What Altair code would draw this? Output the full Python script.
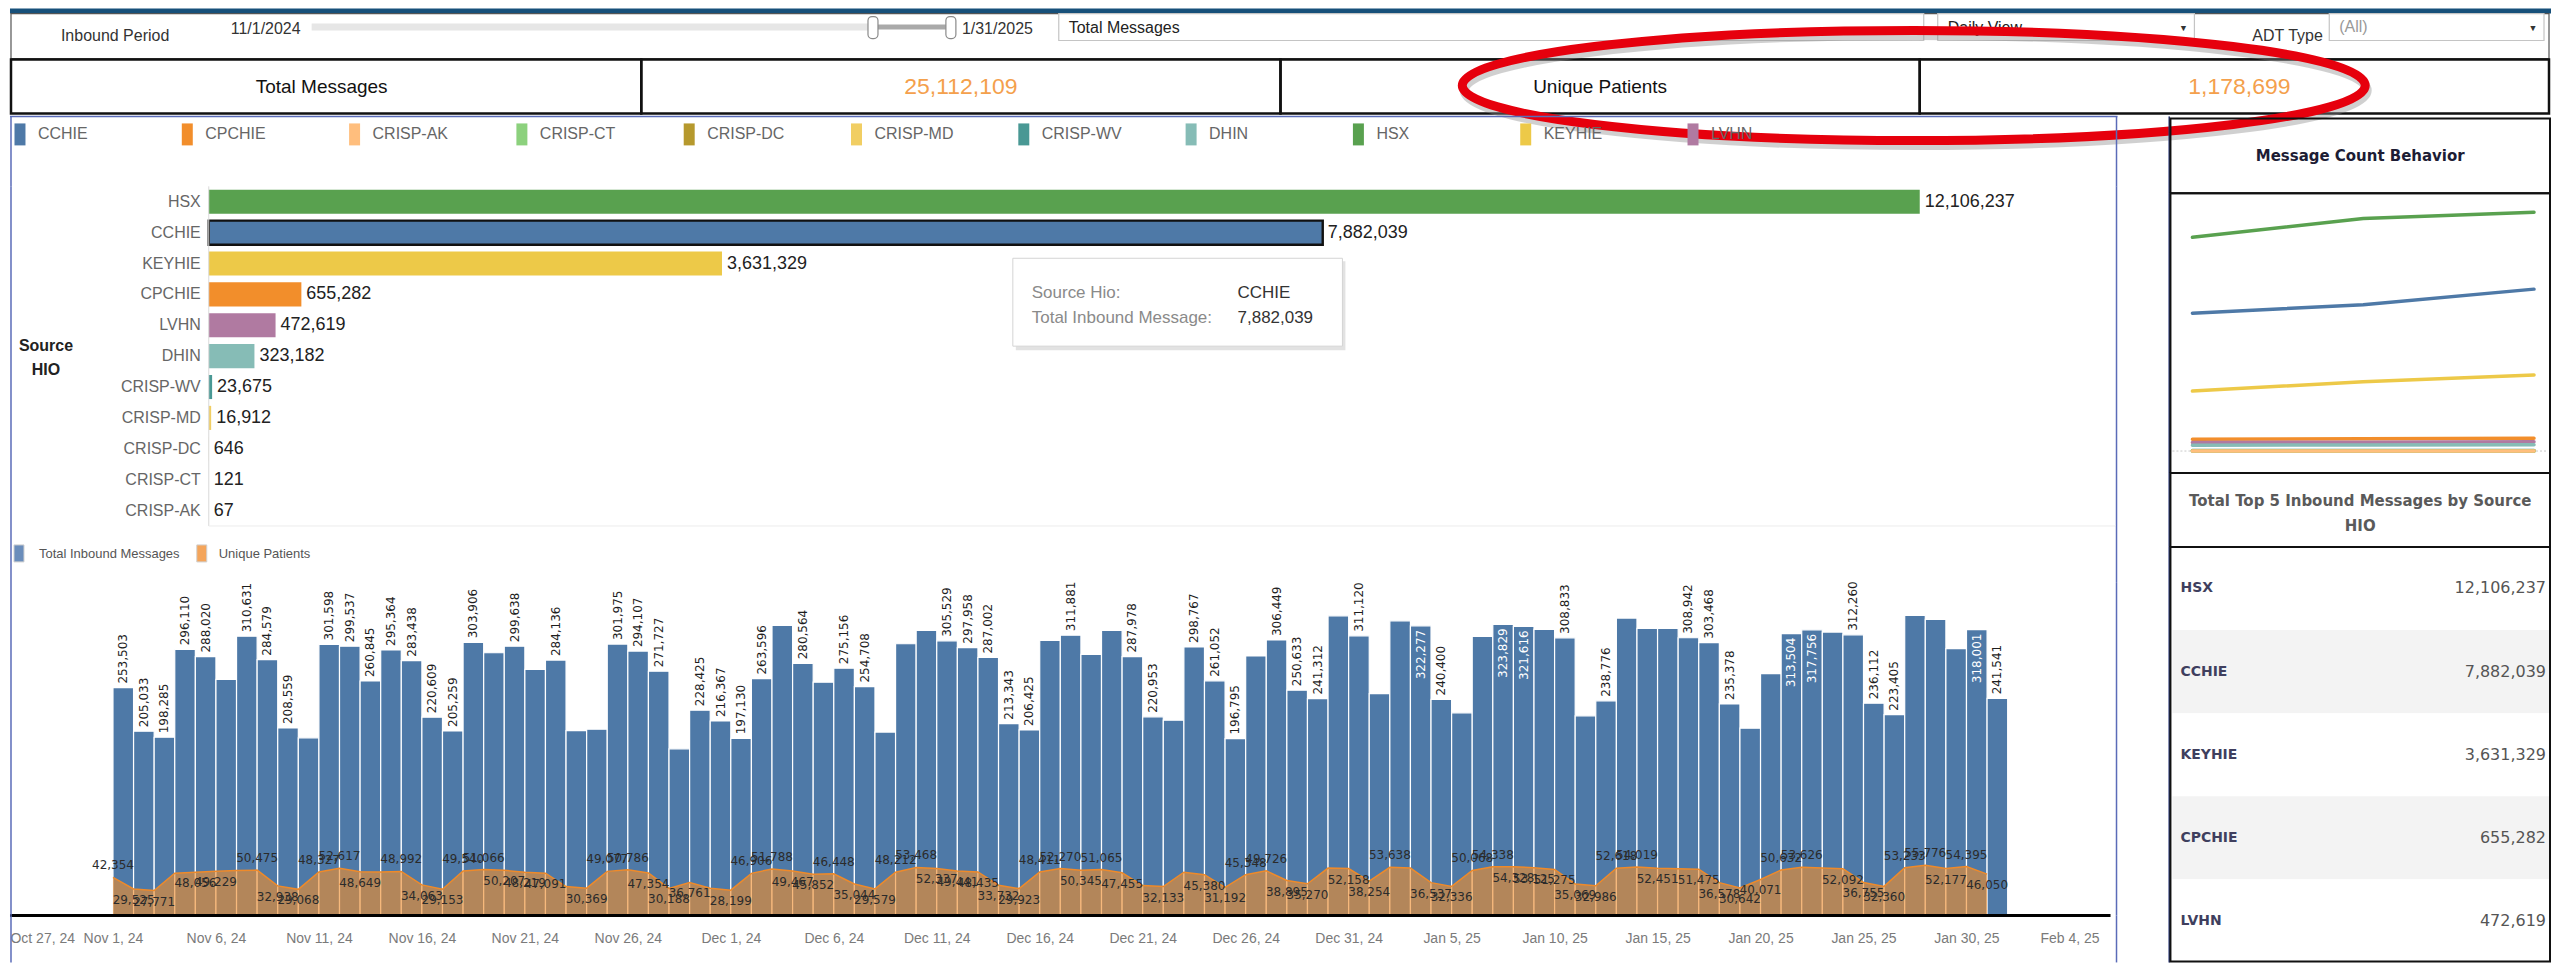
import altair as alt
import pandas as pd
import numpy as np

SANS = "'Liberation Sans', Arial, sans-serif"
WIDE = "'DejaVu Sans', Verdana, sans-serif"
PANEL = "#5a6bb8"
NAVY = "#2c3a78"
BLUE = "#4e79a7"
ORANGE = "#f28e2b"

# ---------------- data ----------------
hio_names = ["CCHIE", "CPCHIE", "CRISP-AK", "CRISP-CT", "CRISP-DC", "CRISP-MD",
             "CRISP-WV", "DHIN", "HSX", "KEYHIE", "LVHN"]
hio_colors = ["#4e79a7", "#f28e2b", "#ffbe7d", "#8cd17d", "#b6992d", "#f1ce63",
              "#499894", "#86bcb6", "#59a14f", "#edc948", "#b07aa1"]
hio_totals = [7882039, 655282, 67, 121, 646, 16912, 23675, 323182, 12106237, 3631329, 472619]
selected_hio = "CCHIE"

total_messages = 25112109
unique_patients = 1178699

month_index = [0, 1, 2]
monthly_hsx = [3777000, 4109000, 4220237]
monthly_cchie = [2437000, 2584000, 2861039]
monthly_keyhie = [1060000, 1226000, 1345329]
monthly_cpchie = [210000, 218000, 227282]
monthly_lvhn = [150000, 157000, 165619]
monthly_dhin = [104000, 108000, 111182]
monthly_crisp_wv = [7600, 7900, 8175]
monthly_crisp_md = [5400, 5600, 5912]
monthly_crisp_dc = [200, 215, 231]
monthly_crisp_ct = [40, 40, 41]
monthly_crisp_ak = [22, 22, 23]

nov_messages = [253503, 205033, 198285, 296110, 288020, 262700, 310631, 284579, 208559, 197600,
                301598, 299537, 260845, 295364, 283438, 220609, 205259, 303906, 292300, 299638,
                273800, 284136, 205700, 207200, 301975, 294107, 271727, 185400, 228425, 216367]
dec_messages = [197130, 263596, 322700, 280564, 259500, 275156, 254708, 204000, 302300, 317100,
                305529, 297958, 287002, 213343, 206425, 306000, 311881, 290500, 317100, 287978,
                220953, 217300, 298767, 261052, 196795, 288700, 306449, 250633, 241312, 333400, 311120]
jan_messages = [246900, 327800, 322277, 240400, 225500, 310500, 323829, 321616, 318200, 308833,
                222100, 238776, 330800, 319300, 319300, 308942, 303468, 235378, 208400, 269100,
                313504, 317756, 315300, 312260, 236112, 223405, 333700, 329300, 296800, 318001, 241541]

nov_patients = [42354, 29525, 27771, 47100, 48056, 49229, 50100, 50475, 32938, 29068,
                48327, 52617, 48649, 48300, 48992, 34063, 29153, 49540, 51066, 50207,
                48219, 47091, 32200, 30369, 49077, 50786, 47354, 30188, 36761, 30300]
dec_patients = [28199, 46906, 51788, 49467, 45852, 46448, 35044, 29579, 48212, 53468,
                52337, 49441, 48435, 33732, 29923, 48411, 52270, 50345, 51065, 47455,
                33300, 32133, 48100, 45380, 31192, 45348, 49726, 38895, 35270, 52700, 52158]
jan_patients = [38254, 53638, 52800, 36537, 32336, 50068, 54338, 54328, 53125, 51275,
                35069, 32986, 52618, 54019, 52451, 51900, 51475, 36578, 30642, 40071,
                50632, 53626, 52800, 52092, 36755, 32360, 53233, 55776, 52177, 54395, 46050]

# days whose labels Tableau dropped
msg_unlabeled = ["2024-11-06", "2024-11-10", "2024-11-19", "2024-11-21", "2024-11-23", "2024-11-24",
                 "2024-11-28", "2024-12-03", "2024-12-05", "2024-12-08", "2024-12-09", "2024-12-10",
                 "2024-12-16", "2024-12-18", "2024-12-19", "2024-12-22", "2024-12-26", "2024-12-30",
                 "2025-01-01", "2025-01-02", "2025-01-05", "2025-01-06", "2025-01-09", "2025-01-11",
                 "2025-01-13", "2025-01-14", "2025-01-15", "2025-01-19", "2025-01-20", "2025-01-23",
                 "2025-01-27", "2025-01-28", "2025-01-29"]
pat_unlabeled = ["2024-11-04", "2024-11-07", "2024-11-14", "2024-11-23", "2024-11-30", "2024-12-21",
                 "2024-12-23", "2024-12-30", "2025-01-03", "2025-01-16", "2025-01-23"]

# ---------------- derived tables ----------------
def to_ms(ts):
    return int(ts.value // 1_000_000)

days = pd.date_range("2024-11-01", "2025-01-31", freq="D", tz="UTC")
daily = pd.DataFrame({
    "date": [to_ms(d) for d in days],
    "next": [to_ms(d + pd.Timedelta(days=1)) for d in days],
    "mid": [to_ms(d + pd.Timedelta(hours=12)) for d in days],
    "day": days.strftime("%Y-%m-%d"),
    "msgs": nov_messages + dec_messages + jan_messages,
    "pat": nov_patients + dec_patients + jan_patients,
})
daily["zero"] = 0
daily["msg_lab"] = ~daily["day"].isin(msg_unlabeled)
daily["pat_lab"] = ~daily["day"].isin(pat_unlabeled)
p = daily["pat"].to_numpy()
prev = np.r_[-1, p[:-1]]
nxt = np.r_[p[1:], -1]
daily["above"] = (p >= 41000) & (((p >= prev) & (p >= nxt)) | (prev < 41000))

hio_df = pd.DataFrame({"hio": hio_names, "total": hio_totals})
hio_df["zero"] = 0
order = hio_df.sort_values("total", ascending=False)["hio"].tolist()
leg_df = pd.DataFrame({"hio": hio_names, "idx": np.arange(len(hio_names))})
sel_total = int(hio_df.set_index("hio").loc[selected_hio, "total"])

monthly = {"HSX": monthly_hsx, "CCHIE": monthly_cchie, "KEYHIE": monthly_keyhie,
           "CPCHIE": monthly_cpchie, "LVHN": monthly_lvhn, "DHIN": monthly_dhin,
           "CRISP-WV": monthly_crisp_wv, "CRISP-MD": monthly_crisp_md, "CRISP-DC": monthly_crisp_dc,
           "CRISP-CT": monthly_crisp_ct, "CRISP-AK": monthly_crisp_ak}
lines_df = pd.DataFrame([{"hio": h, "m": m, "value": v}
                         for h, vals in monthly.items() for m, v in zip(month_index, vals)])

top5 = hio_df.sort_values("total", ascending=False).head(5).reset_index(drop=True)
top5["rank"] = np.arange(len(top5))

period_start = f"{days[0].month}/{days[0].day}/{days[0].year}"
period_end = f"{days[-1].month}/{days[-1].day}/{days[-1].year}"

color_scale = alt.Scale(domain=hio_names, range=hio_colors)

# ---------------- helpers ----------------
ONE = pd.DataFrame({"k": [0]})


def txt(x, y, s, size=16, color="#333", align="left", baseline="middle", font=SANS, weight="normal"):
    return alt.Chart(ONE).mark_text(text=s, fontSize=size, color=color, align=align,
                                    baseline=baseline, font=font, fontWeight=weight).encode(
        x=alt.value(x), y=alt.value(y))


def rect(x, x2, y, y2, fill=None, stroke=None, sw=1.0, radius=0, opacity=1.0):
    kw = {}
    if fill is not None:
        kw["fill"] = fill
        kw["fillOpacity"] = opacity
    else:
        kw["fill"] = "white"
        kw["fillOpacity"] = 0
    if stroke is not None:
        kw["stroke"] = stroke
        kw["strokeWidth"] = sw
    if radius:
        kw["cornerRadius"] = radius
    return alt.Chart(ONE).mark_rect(**kw).encode(
        x=alt.value(x), x2=alt.value(x2), y=alt.value(y), y2=alt.value(y2))


def vrule(x, y, y2, color, sw=1.0):
    return alt.Chart(ONE).mark_rule(color=color, strokeWidth=sw).encode(
        x=alt.value(x), y=alt.value(y), y2=alt.value(y2))


def hrule(x, x2, y, color, sw=1.0):
    return alt.Chart(ONE).mark_rule(color=color, strokeWidth=sw).encode(
        x=alt.value(x), x2=alt.value(x2), y=alt.value(y))


W_ALL = 2544
W_L = 2110
W_R = 384

# ---------------- A: filter bar ----------------
A = alt.layer(
    rect(0, W_ALL, 0, 5, fill="#17507a"),
    rect(1, 2542, 5, 50, stroke="#555", sw=1.2),
    txt(51, 27, "Inbound Period", 16, "#333"),
    txt(221, 20, period_start, 16, "#333"),
    rect(302, 864, 15, 22, fill="#e6e6e6"),
    rect(864, 942, 16, 21, fill="#a9a9a9"),
    rect(859, 869, 8, 30, fill="white", stroke="#8a8a8a", sw=1.2, radius=4),
    rect(937, 947, 8, 30, fill="white", stroke="#8a8a8a", sw=1.2, radius=4),
    txt(953, 20, period_end, 16, "#333"),
    rect(1050, 1916, 5, 32, fill="white", stroke="#c4c4c4", sw=1.2),
    txt(1060, 19, "Total Messages", 16, "#222"),
    txt(1905, 19, "▼", 9, "#333", align="center"),
    rect(1930, 2187, 5, 32, fill="white", stroke="#c4c4c4", sw=1.2),
    txt(1940, 19, "Daily View", 16, "#222"),
    txt(2176, 19, "▼", 9, "#333", align="center"),
    txt(2245, 27, "ADT Type", 16, "#333"),
    rect(2322, 2537, 5, 32, fill="white", stroke="#c4c4c4", sw=1.2),
    txt(2332, 18, "(All)", 16, "#999"),
    txt(2526, 19, "▼", 9, "#333", align="center"),
).properties(width=W_ALL, height=50)

# ---------------- B: KPI row (+ annotation ellipse) ----------------
kpi_orange = "#f4a04c"
ELLIPSE = "M-1,0A1,0.122,0,1,1,1,0A1,0.122,0,1,1,-1,0Z"
B = alt.layer(
    rect(1, 632, 1, 55, stroke="#111", sw=2.5),
    rect(632, 1272, 1, 55, stroke="#111", sw=2.5),
    rect(1272, 1912, 1, 55, stroke="#111", sw=2.5),
    rect(1912, 2542, 1, 55, stroke="#111", sw=2.5),
    txt(312, 29, "Total Messages", 19, "#111", align="center"),
    txt(952, 29, f"{total_messages:,}", 23, kpi_orange, align="center"),
    txt(1592, 29, "Unique Patients", 19, "#111", align="center"),
    txt(2232, 29, f"{unique_patients:,}", 23, kpi_orange, align="center"),
    alt.Chart(ONE).mark_point(shape=ELLIPSE, size=817216, filled=False, stroke="#8c8c8c",
                              strokeWidth=9, opacity=0.4).encode(x=alt.value(1908), y=alt.value(32)),
    alt.Chart(ONE).mark_point(shape=ELLIPSE, size=817216, filled=False, stroke="#e6000d",
                              strokeWidth=9, opacity=1).encode(x=alt.value(1906), y=alt.value(27)),
).properties(width=W_ALL, height=56)

# ---------------- C1: HIO legend ----------------
H1 = 72
RECT_PATH = "M-0.5,-1L0.5,-1L0.5,1L-0.5,1Z"
leg_step = 167.5
leg_x = alt.X("idx:Q", scale=alt.Scale(domain=[-10 / leg_step, (W_L - 10) / leg_step], nice=False, zero=False),
              axis=None)
C1 = alt.layer(
    hrule(0, W_L, 2, PANEL, 1.5),
    vrule(1, 2, H1, PANEL, 1.5),
    vrule(W_L - 1, 2, H1, PANEL, 1.5),
    alt.Chart(leg_df).mark_point(shape=RECT_PATH, size=484, filled=True, opacity=1).encode(
        x=leg_x, y=alt.value(20), color=alt.Color("hio:N", scale=color_scale, legend=None)),
    alt.Chart(leg_df).mark_text(align="left", dx=18, font=SANS, fontSize=16, color="#666").encode(
        x=alt.X("idx:Q", axis=None), y=alt.value(20), text="hio:N"),
).properties(width=W_L, height=H1)

# ---------------- C2: HIO bar chart ----------------
H2 = 340
px_per = 1713 / max(hio_totals)
x2min = -199 / px_per
x2max = (W_L - 199) / px_per
c2_scale_x = alt.Scale(domain=[x2min, x2max], nice=False)
c2_y = alt.Y("hio:N", scale=alt.Scale(domain=order, paddingInner=0.22, paddingOuter=0.11), axis=None)
base2 = alt.Chart(hio_df)
C2 = alt.layer(
    vrule(1, 0, H2, PANEL, 1.5),
    vrule(W_L - 1, 0, H2, PANEL, 1.5),
    base2.mark_bar(stroke="#111").encode(
        x=alt.X("total:Q", scale=c2_scale_x, axis=None),
        x2="zero:Q",
        y=c2_y,
        color=alt.Color("hio:N", scale=color_scale, legend=None),
        strokeWidth=alt.condition(f"datum.hio == '{selected_hio}'", alt.value(2.4), alt.value(0))),
    base2.mark_text(align="left", dx=5, font=SANS, fontSize=18, color="#222").encode(
        x=alt.X("total:Q", axis=None), y=c2_y, text=alt.Text("total:Q", format=",")),
    base2.mark_text(align="right", dx=-8, font=SANS, fontSize=16, color="#666").encode(
        x=alt.X("zero:Q", axis=None), y=c2_y, text="hio:N"),
    alt.Chart(ONE).mark_rule(color="#d9d9d9", strokeWidth=1).encode(
        x=alt.X("k:Q", axis=None), y=alt.value(0), y2=alt.value(H2)),
    alt.Chart(ONE).mark_rule(color="#ececec", strokeWidth=1).encode(
        x=alt.X("k:Q", axis=None), x2=alt.value(W_L - 2), y=alt.value(H2)),
    txt(36, 160, "Source", 16, "#222", align="center", weight="bold"),
    txt(36, 184, "HIO", 16, "#222", align="center", weight="bold"),
    rect(1007, 1337, 75, 164, fill="#e2e2e2"),
    rect(1004, 1334, 72, 160, fill="white", stroke="#d4d4d4", sw=1),
    txt(1023, 107, "Source Hio:", 17, "#8a8a8a"),
    txt(1229, 107, selected_hio, 17, "#333"),
    txt(1023, 132, "Total Inbound Message:", 17, "#8a8a8a"),
    txt(1229, 132, f"{sel_total:,}", 17, "#333"),
).properties(width=W_L, height=H2)

# ---------------- C3L: daily legend ----------------
H3L = 57
C3L = alt.layer(
    vrule(1, 0, H3L, PANEL, 1.5),
    vrule(W_L - 1, 0, H3L, PANEL, 1.5),
    rect(4, 14, 19, 36, fill="#6a8dbb", stroke="#d0d0d0", sw=1),
    txt(29, 28, "Total Inbound Messages", 13, "#555"),
    rect(187, 197, 19, 36, fill="#f4a55b", stroke="#d0d0d0", sw=1),
    txt(209, 28, "Unique Patients", 13, "#555"),
).properties(width=W_L, height=H3L)

# ---------------- C3: daily chart ----------------
H3 = 333
x_dom = [to_ms(pd.Timestamp("2024-10-27", tz="UTC")), to_ms(pd.Timestamp("2025-02-06 08:00", tz="UTC"))]
tick_vals = [to_ms(t) for t in pd.date_range("2024-10-27", "2025-02-04", freq="5D", tz="UTC")]
xs = alt.Scale(type="utc", domain=x_dom, nice=False)
ys = alt.Scale(domain=[0, 370000], nice=False)
x_axis = alt.Axis(values=tick_vals, labelExpr="utcFormat(datum.value, '%b %-d, %y')", labelFlush=True,
                  ticks=False, domain=False, grid=False, labelColor="#7a7a7a", labelFont=SANS,
                  labelFontSize=14, labelPadding=16, title=None)
base3 = alt.Chart(daily)
C3 = alt.layer(
    base3.mark_bar(color=BLUE, stroke="white", strokeWidth=1.2).encode(
        x=alt.X("date:T", scale=xs, axis=x_axis),
        x2="next:T",
        y=alt.Y("msgs:Q", scale=ys, axis=None),
        y2="zero:Q"),
    base3.mark_area(color=ORANGE, opacity=0.62).encode(
        x=alt.X("date:T", axis=x_axis), y=alt.Y("pat:Q", axis=None)),
    base3.mark_line(color="#ee8a2a", strokeWidth=1.5).encode(
        x=alt.X("date:T", axis=x_axis), y=alt.Y("pat:Q", axis=None)),
    base3.transform_filter("datum.msg_lab && datum.msgs <= 312800").mark_text(
        angle=270, align="left", baseline="middle", dx=4, font=WIDE, fontSize=12, color="#1e1e1e").encode(
        x=alt.X("mid:T", axis=x_axis), y=alt.Y("msgs:Q", axis=None), text=alt.Text("msgs:Q", format=",")),
    base3.transform_filter("datum.msg_lab && datum.msgs > 312800").mark_text(
        angle=270, align="right", baseline="middle", dx=-4, font=WIDE, fontSize=12, color="white").encode(
        x=alt.X("mid:T", axis=x_axis), y=alt.Y("msgs:Q", axis=None), text=alt.Text("msgs:Q", format=",")),
    base3.transform_filter("datum.pat_lab && datum.above").mark_text(
        baseline="bottom", dy=-5, font=WIDE, fontSize=12, color="#2b2b2b").encode(
        x=alt.X("date:T", axis=x_axis), y=alt.Y("pat:Q", axis=None), text=alt.Text("pat:Q", format=",")),
    base3.transform_filter("datum.pat_lab && !datum.above").mark_text(
        baseline="top", dy=6, font=WIDE, fontSize=12, color="#2b2b2b").encode(
        x=alt.X("date:T", axis=x_axis), y=alt.Y("pat:Q", axis=None), text=alt.Text("pat:Q", format=",")),
    hrule(0, 2103, H3, "#000", 3),
    vrule(1, 0, H3, PANEL, 1.5),
    vrule(W_L - 1, 0, H3, PANEL, 1.5),
).properties(width=W_L, height=H3)

# ---------------- C4: bottom spacer with borders ----------------
H4 = 47
C4 = alt.layer(
    vrule(1, 0, H4, PANEL, 1.5),
    vrule(W_L - 1, 0, H4, PANEL, 1.5),
).properties(width=W_L, height=H4)

# ---------------- right panel ----------------
HR1, HR2, HR3, HR4 = 79, 280, 74, 416
R1 = alt.layer(
    vrule(0.8, 2, HR1, NAVY, 1.6),
    rect(2, 382, 4, HR1, stroke="#111", sw=2),
    txt(192, 42, "Message Count Behavior", 15, "#1d1d35", align="center", font=WIDE, weight="bold"),
).properties(width=W_R, height=HR1)

lx_step = 171
lx = alt.X("m:Q", scale=alt.Scale(domain=[-24 / lx_step, (W_R - 24) / lx_step], nice=False, zero=False), axis=None)
ly_per = 17650
ly = alt.Y("value:Q", scale=alt.Scale(domain=[-22 * ly_per, (HR2 - 22) * ly_per], nice=False, zero=False),
           axis=None)
R2 = alt.layer(
    vrule(0.8, 0, HR2, NAVY, 1.6),
    rect(2, 382, 0, HR2, stroke="#111", sw=2),
    alt.Chart(ONE).mark_rule(color="#c8c8c8", strokeWidth=1, strokeDash=[2, 2]).encode(
        y=alt.Y("k:Q", axis=None), x=alt.value(4), x2=alt.value(380)),
    alt.Chart(lines_df).mark_line(strokeWidth=3.5, strokeCap="round").encode(
        x=lx, y=ly, color=alt.Color("hio:N", scale=color_scale, legend=None)),
).properties(width=W_R, height=HR2)

R3 = alt.layer(
    vrule(0.8, 0, HR3, NAVY, 1.6),
    rect(2, 382, 0, HR3, stroke="#111", sw=2),
    txt(192, 28, "Total Top 5 Inbound Messages by Source", 15, "#5a5a5a", align="center", font=WIDE,
        weight="bold"),
    txt(192, 53, "HIO", 15, "#5a5a5a", align="center", font=WIDE, weight="bold"),
).properties(width=W_R, height=HR3)

r4_y = alt.Y("hio:N", scale=alt.Scale(domain=top5["hio"].tolist(), paddingInner=0, paddingOuter=0), axis=None)
R4 = alt.layer(
    alt.Chart(top5).mark_rect().encode(
        y=r4_y, x=alt.value(4), x2=alt.value(381),
        color=alt.condition("datum.rank % 2 == 1", alt.value("#f3f3f3"), alt.value("white"))),
    vrule(0.8, 0, HR4, NAVY, 1.6),
    rect(2, 382, 0, HR4 - 1, stroke="#111", sw=2),
    alt.Chart(top5).mark_text(align="left", font=WIDE, fontSize=14, fontWeight="bold", color="#3f3f5e").encode(
        x=alt.value(12), y=r4_y, text="hio:N"),
    alt.Chart(top5).mark_text(align="right", font=WIDE, fontSize=16, color="#555").encode(
        x=alt.value(378), y=r4_y, text=alt.Text("total:Q", format=",")),
).properties(width=W_R, height=HR4)

left = alt.vconcat(C1, C2, C3L, C3, C4, spacing=0, bounds="flush")
right = alt.vconcat(R1, R2, R3, R4, spacing=0, bounds="flush")
main = alt.hconcat(left, right, spacing=50, bounds="full")

chart = alt.vconcat(A, B, main, spacing=0, bounds="flush", padding=0, background="white").configure_view(
    strokeWidth=0)

chart.save("out.html", embed_options={"renderer": "svg", "actions": False})
